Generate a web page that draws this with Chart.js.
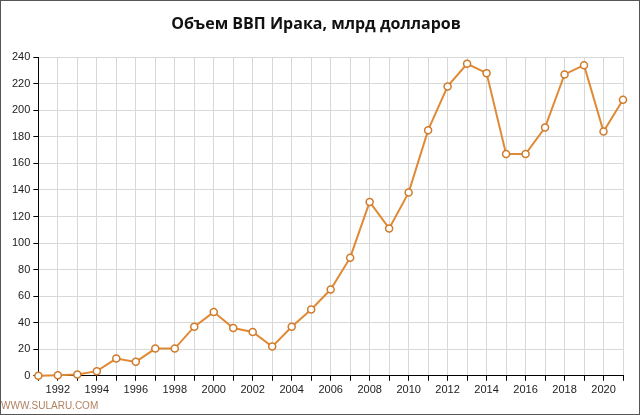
<!DOCTYPE html>
<html>
<head>
<meta charset="utf-8">
<script src="https://cdn.jsdelivr.net/npm/chart.js@4"></script>
<style>
body { margin: 0; background: #fff; }
#wrap { position: relative; width: 638px; height: 413px; border: 1px solid #555; }
#mark { position: absolute; left: 0; bottom: 3px; font: 10px Arial, "Liberation Sans", sans-serif; color: #b08060; }
</style>
</head>
<body>
<div id="wrap">
<canvas id="c" width="638" height="413"></canvas>
<div id="mark">WWW.SULARU.COM</div>
</div>
<script>
const years = [1991,1992,1993,1994,1995,1996,1997,1998,1999,2000,2001,2002,2003,2004,2005,2006,2007,2008,2009,2010,2011,2012,2013,2014,2015,2016,2017,2018,2019,2020,2021];
const gdp = [0,0.5,1,3.5,13,10.5,20.5,20.5,37,48,36,33,22,37,50,65,89,131,111,138,185,218,235,228,167,167,187,227,234,184,208];

const ctx = document.getElementById("c").getContext("2d");
new Chart(ctx, {
    type: "line",
    data: {
        datasets: [{
            data: years.map((y, i) => ({ x: y, y: gdp[i] })),
            borderColor: "#e08a35",
            borderWidth: 2,
            pointRadius: 3.5,
            pointBorderWidth: 1.5,
            pointBackgroundColor: "#fff",
            pointBorderColor: "#d07a2a",
            tension: 0,
            clip: false
        }]
    },
    options: {
        responsive: false,
        animation: false,
        layout: { padding: { left: 8, right: 16, top: 6, bottom: 14 } },
        plugins: {
            legend: { display: false },
            tooltip: { enabled: false },
            title: {
                display: true,
                text: "Объем ВВП Ирака, млрд долларов",
                font: { family: "Open Sans", size: 16, weight: "bold" },
                color: "#111",
                padding: { top: 8, bottom: 23 }
            }
        },
        scales: {
            x: {
                type: "linear",
                min: 1991, max: 2021,
                border: { color: "#000", width: 1 },
                grid: { color: "#d8d8d8", tickLength: 5, tickColor: "#000" },
                ticks: {
                    stepSize: 1, autoSkip: false, maxRotation: 0,
                    font: { family: "Arial", size: 11 }, color: "#222",
                    callback: v => v % 2 === 0 ? String(v) : ""
                }
            },
            y: {
                min: 0, max: 240,
                border: { color: "#000", width: 1 },
                grid: { color: "#d8d8d8", tickLength: 5, tickColor: "#000" },
                ticks: { stepSize: 20, font: { family: "Arial", size: 11 }, color: "#222" }
            }
        }
    }
});
</script>
</body>
</html>
